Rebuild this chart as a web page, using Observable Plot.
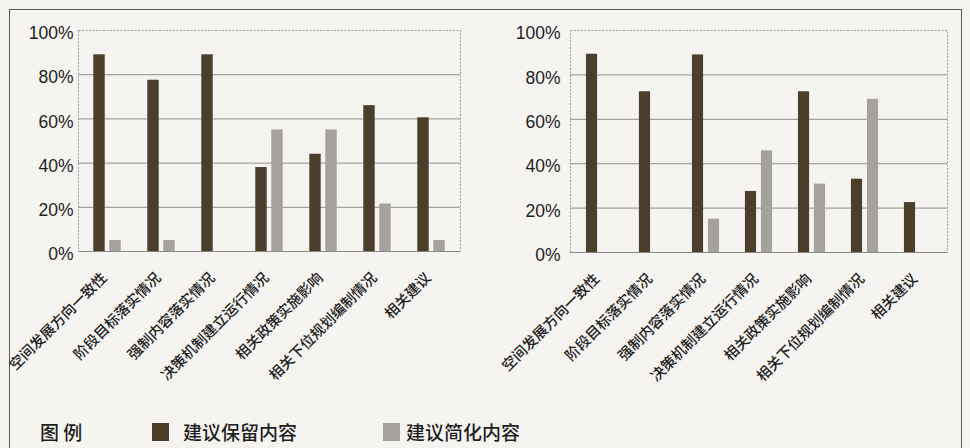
<!DOCTYPE html>
<html>
<head>
<meta charset="utf-8">
<script src="https://cdn.jsdelivr.net/npm/d3@7"></script>
<script src="https://cdn.jsdelivr.net/npm/@observablehq/plot@0.6"></script>
<style>
  html, body { margin: 0; padding: 0; background: #f5f4f0; }
  #page { position: relative; width: 970px; height: 448px; overflow: hidden; background: #f5f4f0; }
  #frame { position: absolute; left: 9px; top: 9px; width: 951px; height: 460px;
           border-left: 1.5px solid #5a5a5a; border-top: 1.5px solid #5a5a5a; border-right: 1.5px solid #5a5a5a; }
  .chart { position: absolute; top: 0; }
  #left { left: 0; }
  #right { left: 485px; }
  #legend { position: absolute; left: 0; top: 421px; width: 970px; height: 24px;
            font-family: "Noto Sans CJK SC", sans-serif; font-size: 19px; font-weight: 500; color: #1e1e1e; }
  #legend span { position: absolute; top: 0; line-height: 22px; white-space: nowrap; }
  #legend .sw { width: 17px; height: 18px; top: 2px; }
</style>
</head>
<body>
<div id="page">
  <div id="frame"></div>
  <div id="left" class="chart"></div>
  <div id="right" class="chart"></div>
  <div id="legend"></div>
</div>
<script>
const categories = ["空间发展方向一致性", "阶段目标落实情况", "强制内容落实情况", "决策机制建立运行情况", "相关政策实施影响", "相关下位规划编制情况", "相关建议"];
const seriesNames = ["建议保留内容", "建议简化内容"];
const legendTitle = "图 例";
const leftKeep = [0.89, 0.775, 0.89, 0.38, 0.44, 0.66, 0.605];
const leftSimplify = [0.05, 0.05, 0, 0.55, 0.55, 0.215, 0.05];
const rightKeep = [0.893, 0.724, 0.89, 0.275, 0.724, 0.33, 0.225];
const rightSimplify = [0, 0, 0.15, 0.458, 0.308, 0.69, 0];
const yTicks = [0, 0.2, 0.4, 0.6, 0.8, 1];
const colors = ["#4b3f2b", "#a5a29d"];

function chart(keep, simp, m) {
  const data = [];
  categories.forEach((c, i) => {
    data.push({cat: c, series: seriesNames[0], v: keep[i]});
    data.push({cat: c, series: seriesNames[1], v: simp[i]});
  });
  const bw = (m.width - m.left - m.right) / categories.length;
  const c = bw / 2;
  return Plot.plot({
    width: m.width,
    height: 400,
    marginLeft: m.left,
    marginRight: m.right,
    marginTop: 30,
    marginBottom: 400 - m.bottom,
    style: {background: "transparent", color: "#1e1e1e"},
    x: {domain: categories, padding: 0, label: null},
    y: {domain: [0, 1], label: null},
    marks: [
      Plot.gridY(yTicks.slice(1, -1), {stroke: "#8f8f8f", strokeOpacity: 1, strokeWidth: 1}),
      Plot.barY(data.filter(d => d.series === seriesNames[0] && d.v > 0),
        {x: "cat", y: "v", fill: colors[0], insetLeft: c - 14, insetRight: c + 2}),
      Plot.barY(data.filter(d => d.series === seriesNames[1] && d.v > 0),
        {x: "cat", y: "v", fill: colors[1], insetLeft: c + 2, insetRight: c - 14}),
      Plot.frame({stroke: "#9a9a9a", strokeDasharray: "2,1.5"}),
      Plot.ruleY([0], {stroke: "#8a8a8a"}),
      Plot.axisY({ticks: yTicks, tickFormat: d3.format(".0%"), tickSize: 0, tickPadding: m.pad,
        fontSize: 17.5, fontFamily: "Liberation Sans, Arial, sans-serif", dy: 3, fill: "#1e1e1e"}),
      Plot.axisX({tickRotate: -45, tickSize: 0, tickPadding: 20, fontSize: 14.5, dx: -3, dy: 4,
        fontFamily: "Noto Sans CJK SC, sans-serif", fontWeight: 500, fill: "#1e1e1e"})
    ]
  });
}

document.getElementById("left").appendChild(chart(leftKeep, leftSimplify, {width: 485, left: 78, right: 25, bottom: 251, pad: 5}));
document.getElementById("right").appendChild(chart(rightKeep, rightSimplify, {width: 485, left: 85, right: 23, bottom: 252, pad: 10}));

const lg = document.getElementById("legend");
const items = [
  {text: legendTitle, x: 40},
  {sw: colors[0], x: 152}, {text: seriesNames[0], x: 183},
  {sw: colors[1], x: 383}, {text: seriesNames[1], x: 406}
];
for (const it of items) {
  const s = document.createElement("span");
  s.style.left = it.x + "px";
  if (it.sw) { s.className = "sw"; s.style.background = it.sw; }
  else s.textContent = it.text;
  lg.appendChild(s);
}
</script>
</body>
</html>
